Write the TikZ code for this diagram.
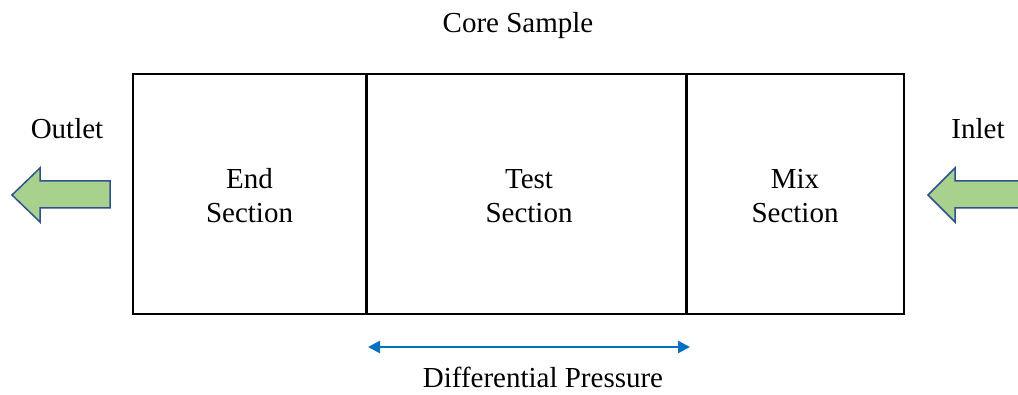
\documentclass[tikz,border=0pt]{standalone}
\usepackage{fontspec}
\setmainfont{Liberation Serif}
\usetikzlibrary{arrows.meta,positioning}

\definecolor{flowgreen}{RGB}{169,209,142}
\definecolor{flowedge}{RGB}{47,82,143}
\definecolor{dpblue}{RGB}{0,112,192}

\begin{document}
\begin{tikzpicture}[x=1pt, y=1pt, >=Stealth, line join=miter,
  section/.style={draw, line width=1.5pt, minimum height=240pt, inner sep=0pt,
    outer sep=0pt, align=center, font=\fontsize{29}{34}\selectfont},
  caption/.style={anchor=base, inner sep=0pt, font=\fontsize{29}{34}\selectfont},
  flow/.style={draw=flowedge, fill=flowgreen, line width=1.5pt},
  dp/.style={<->, draw=dpblue, line width=2.5pt, >={Triangle[length=12pt,width=12pt]}}]

% ----------------------------
% PAGE
% ----------------------------
\clip (0,0) rectangle (1018,394);

% ----------------------------
% SECTIONS OF THE CORE
% ----------------------------
\node[section, minimum width=233pt, anchor=south west] (endsec) at (133,80) {};
\node[section, minimum width=320pt, anchor=west] (testsec) at (endsec.east) {};
\node[section, minimum width=218pt, anchor=west] (mixsec) at (testsec.east) {};

% thicker walls between the sections
\draw[line width=3pt] (endsec.north east) -- (endsec.south east);
\draw[line width=3pt] (testsec.north east) -- (testsec.south east);

% section names
\node[caption] (endtop) at ([yshift=5pt]endsec.center) {End};
\node[caption] (endbot) at ([yshift=-29pt]endsec.center) {Section};
\node[caption] (testtop) at ([xshift=3pt,yshift=5pt]testsec.center) {Test};
\node[caption] (testbot) at ([xshift=3pt,yshift=-29pt]testsec.center) {Section};
\node[caption] (mixtop) at ([yshift=5pt]mixsec.center) {Mix};
\node[caption] (mixbot) at ([yshift=-29pt]mixsec.center) {Section};

% ----------------------------
% LABELS
% ----------------------------
\node[caption] (core) at (518,361) {Core Sample};
\node[caption] (outlet) at (67,255) {Outlet};
\node[caption] (inlet) at (978,255) {Inlet};
\node[caption] (dplabel) at (543,7) {Differential Pressure};

% ----------------------------
% FLOW ARROWS
% ----------------------------
\draw[flow] (12,199) -- (40,226) -- (40,213) -- (110,213) -- (110,186)
  -- (40,186) -- (40,172) -- cycle;
\draw[flow] (928,199) -- (955,226) -- (955,213) -- (1030,213) -- (1030,186)
  -- (955,186) -- (955,172) -- cycle;

% ----------------------------
% DIFFERENTIAL PRESSURE
% ----------------------------
\coordinate (dpleft) at (368,47);
\coordinate (dpright) at (690,47);
\draw[dp] (dpleft) -- (dpright);

\end{tikzpicture}
\end{document}
